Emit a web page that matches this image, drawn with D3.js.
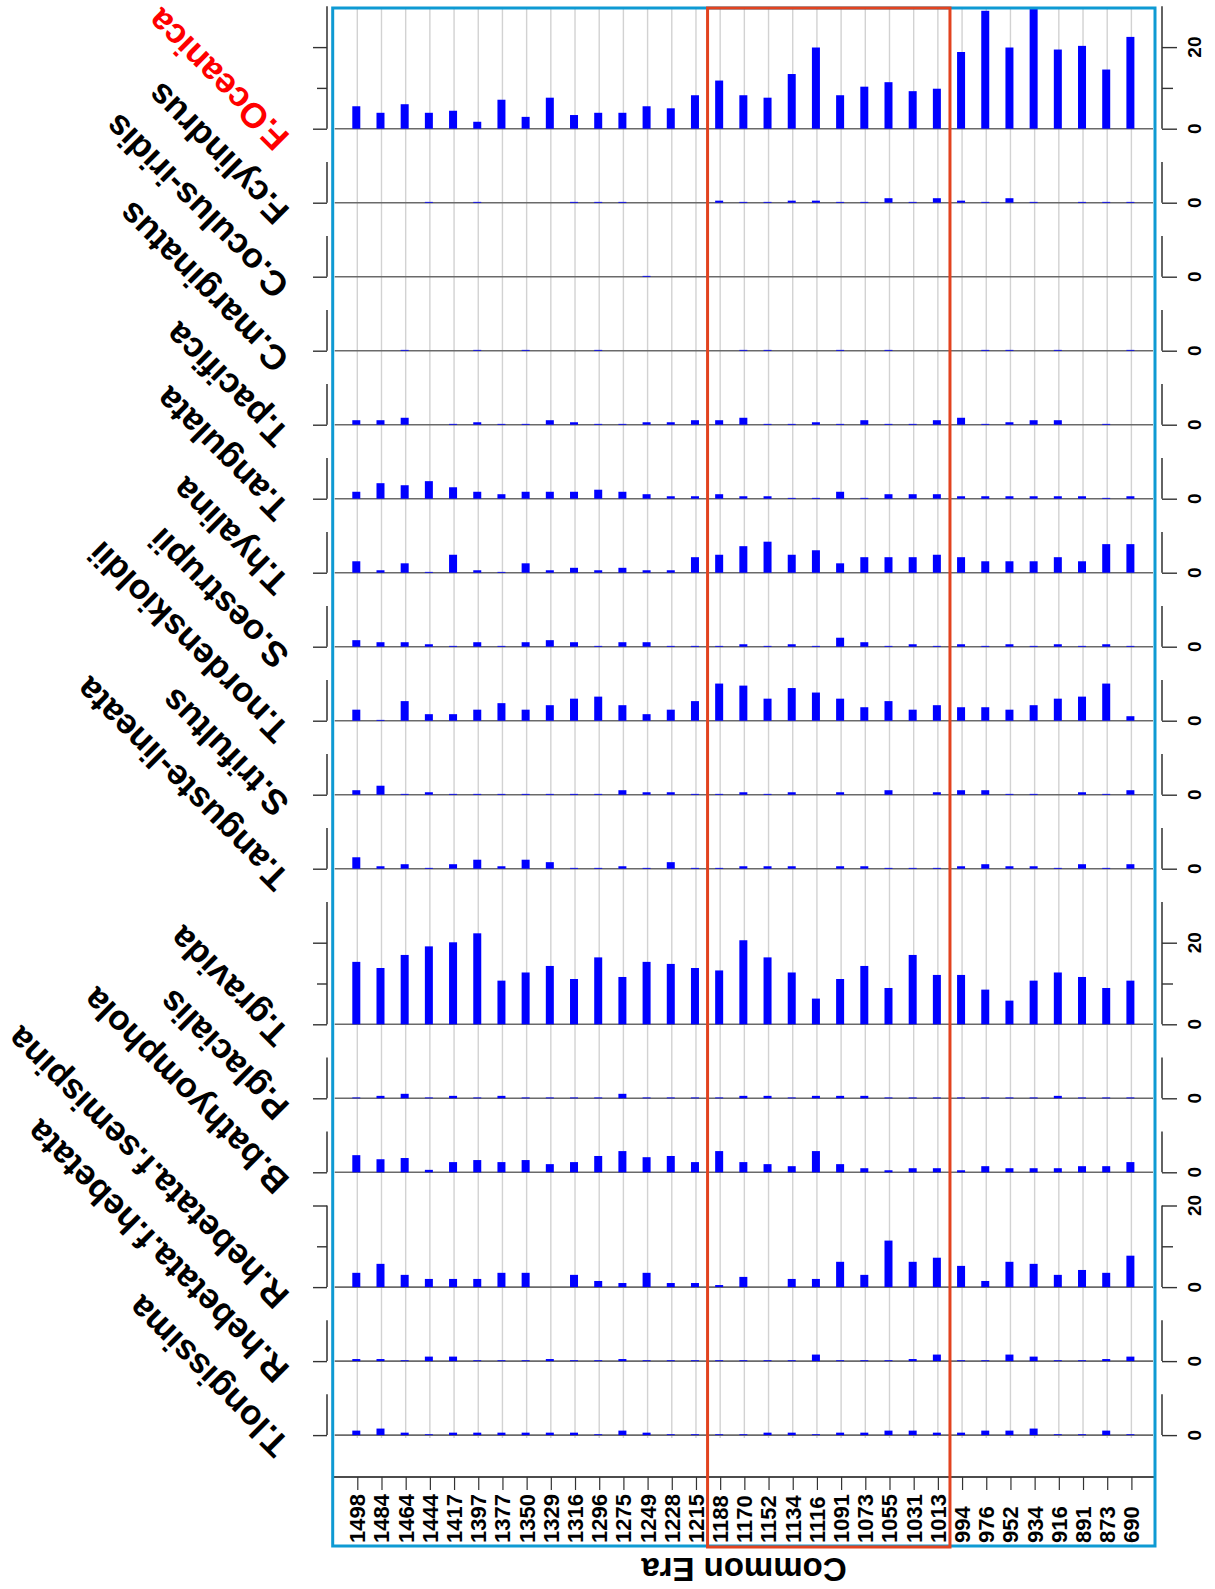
<!DOCTYPE html>
<html><head><meta charset="utf-8">
<script src="https://cdn.jsdelivr.net/npm/d3@7"></script>
<style>body{margin:0;background:#fff}svg{display:block}text{font-family:"Liberation Sans",Arial,sans-serif;font-weight:bold}</style>
</head><body><svg id="c" width="1215" height="1589"></svg>
<script>
const years = [1498,1484,1464,1444,1417,1397,1377,1350,1329,1316,1296,1275,1249,1228,1215,1188,1170,1152,1134,1116,1091,1073,1055,1031,1013,994,976,952,934,916,891,873,690];
const speciesNames = ["F.Oceanica","F.cylindrus","C.oculus-iridis","C.marginatus","T.pacifica","T.angulata","T.hyalina","S.oestrupii","T.nordenskioldii","S.trifultus","T.anguste-lineata","T.gravida","P.glacialis","B.bathyomphola","R.hebetata.f.semispina","R.hebetata.f.hebetata","T.longissima"];
const axisMax = [30,10,10,10,10,10,10,10,10,10,10,30,10,10,20,10,10];
const axisTicks = [[0,10,20],[0],[0],[0],[0],[0],[0],[0],[0],[0],[0],[0,10,20],[0],[0],[0,10,20],[0],[0]];
const axisLabels = [[0,20],[0],[0],[0],[0],[0],[0],[0],[0],[0],[0],[0,20],[0],[0],[0,20],[0],[0]];

const fOceanica = [5.5,3.9,6.0,3.9,4.4,1.7,7.1,2.9,7.6,3.35,3.9,3.9,5.5,5.0,8.2,11.8,8.2,7.6,13.4,19.9,8.2,10.3,11.4,9.2,9.8,18.8,28.9,19.9,29.8,19.4,20.3,14.5,22.5];
const fCylindrus = [0,0,0,0.2,0,0.2,0,0,0,0.2,0.2,0.2,0,0,0,0.5,0.2,0.2,0.5,0.5,0.2,0.2,1.1,0.2,1.1,0.5,0.2,1.1,0.2,0,0.2,0.2,0.2];
const cOculusIridis = [0,0,0,0,0,0,0,0,0,0,0,0,0.2,0,0,0,0,0,0,0,0,0,0,0,0,0,0,0,0,0,0,0,0];
const cMarginatus = [0,0,0.2,0,0,0.2,0,0.2,0,0,0.2,0,0,0,0,0,0.2,0.2,0,0,0.2,0,0.2,0,0,0,0.2,0.2,0,0.2,0,0,0.2];
const tPacifica = [1.1,1.1,1.7,0,0.2,0.6,0.2,0.2,1.1,0.6,0.2,0.2,0.6,0.6,1.1,1.1,1.7,0.2,0.2,0.6,0.2,1.1,0.2,0.2,1.1,1.7,0.2,0.6,1.1,1.1,0,0.2,0];
const tAngulata = [1.7,3.8,3.3,4.3,2.8,1.7,1.1,1.7,1.7,1.7,2.2,1.7,1.1,0.6,0.6,1.1,0.6,0.6,0.2,0.2,1.7,0.2,1.1,1.1,1.1,0.6,0.6,0.6,0.6,0.6,0.6,0.2,0.6];
const tHyalina = [2.8,0.6,2.3,0.2,4.4,0.6,0.2,2.3,0.6,1.2,0.6,1.2,0.6,0.6,3.8,4.4,6.5,7.6,4.4,5.5,2.3,3.8,3.8,3.8,4.4,3.8,2.8,2.8,2.8,3.8,2.8,7.0,7.0];
const sOestrupii = [1.6,1.1,1.1,0.6,0.2,1.1,0.2,1.1,1.6,1.1,0.2,1.1,1.1,0.2,0.2,0.2,0.6,0.2,0.6,0.2,2.2,1.1,0.2,0.6,0.2,0.6,0.2,0.6,0.2,0.6,0.2,0.6,0.2];
const tNordenskioldii = [2.7,0.2,4.8,1.6,1.6,2.7,4.3,2.7,3.8,5.4,5.9,3.8,1.6,2.7,4.8,9.1,8.6,5.4,8.0,6.9,5.4,3.3,4.8,2.7,3.8,3.3,3.3,2.7,3.8,5.4,5.9,9.1,1.1];
const sTrifultus = [1.1,2.2,0.2,0.6,0.2,0.2,0.2,0.2,0.2,0.2,0.2,1.1,0.6,0.6,0.2,0.2,0.6,0.2,0.6,0,0.6,0,1.1,0,0.6,1.1,1.1,0.2,0.2,0,0.6,0.2,1.1];
const tAngusteLineata = [2.8,0.6,1.1,0.2,1.1,2.2,0.6,2.2,1.6,0.2,0.2,0.6,0.2,1.6,0.2,0.2,0.6,0.6,0.6,0,0.6,0.6,0.2,0.2,0.2,0.6,1.1,0.6,0.6,0.2,1.1,0.2,1.1];
const tGravida = [15.3,13.8,17.0,19.1,20.1,22.3,10.7,12.7,14.3,11.1,16.4,11.6,15.3,14.8,13.8,13.2,20.6,16.4,12.7,6.3,11.1,14.3,8.9,17.0,12.1,12.1,8.5,5.8,10.7,12.7,11.6,8.9,10.7];
const pGlacialis = [0.2,0.6,1.1,0.2,0.6,0.2,0.6,0.2,0.2,0.2,0.2,1.1,0.2,0.2,0.2,0.2,0.6,0.6,0.2,0.6,0.6,0.6,0.2,0.2,0.2,0.2,0.2,0.2,0.2,0.6,0.2,0.2,0.2];
const bBathyomphola = [4.2,3.2,3.5,0.6,2.5,3.0,2.5,3.0,2.0,2.5,4.0,5.2,3.7,4.0,2.5,5.2,2.5,2.0,1.5,5.2,2.0,1.0,0.5,1.0,1.0,0.5,1.5,1.0,1.0,1.0,1.5,1.5,2.5];
const rHebSemispina = [3.5,5.7,3.0,2.0,2.0,2.0,3.5,3.5,0,3.0,1.5,1.0,3.5,1.0,1.0,0.5,2.5,0,2.0,2.0,6.2,3.0,11.4,6.2,7.2,5.2,1.5,6.2,5.7,3.0,4.2,3.5,7.7];
const rHebHebetata = [0.5,0.5,0.2,1.1,1.1,0.2,0.2,0.2,0.5,0.2,0.2,0.5,0.2,0.2,0.2,0.2,0.2,0.2,0.2,1.6,0.2,0.2,0.2,0.5,1.6,0.2,0.2,1.6,1.1,0.2,0.2,0.5,1.1];
const tLongissima = [1.1,1.6,0.6,0.2,0.6,0.6,0.6,0.6,0.6,0.6,0.2,1.1,0.6,0.2,0.2,0.2,0.2,0.6,0.6,0.2,0.6,0.6,1.1,1.1,0.6,0.6,1.1,1.1,1.6,0.2,0.2,1.1,0.2];
const series = [fOceanica,fCylindrus,cOculusIridis,cMarginatus,tPacifica,tAngulata,tHyalina,sOestrupii,tNordenskioldii,sTrifultus,tAngusteLineata,tGravida,pGlacialis,bBathyomphola,rHebSemispina,rHebHebetata,tLongissima];
const highlightYears = [1188,1013];
const xTitle = "Common Era";

const svg = d3.select("#c");
const ppu = 4.08, gap = 33.2, firstZero = 128.7;
const x = d3.scalePoint().domain(years).range([357.3,1131.4]);
const boxL = 332.7, boxR = 1155, boxT = 8, boxB = 1546;
const gridBottom = 1438, axisY = 1477;

const zeros = [];
axisMax.forEach((m,i)=>{ zeros.push(i===0 ? firstZero : zeros[i-1] + gap + m*ppu); });
const yScales = axisMax.map((m,i)=> d3.scaleLinear().domain([0,m]).range([zeros[i], zeros[i]-m*ppu]));

svg.append("g").selectAll("line").data(years).join("line")
  .attr("x1",d=>x(d)).attr("x2",d=>x(d)).attr("y1",boxT).attr("y2",gridBottom)
  .attr("stroke","#d2d2d2").attr("stroke-width",1.4);

series.forEach((vals,i)=>{
  const y = yScales[i];
  const g = svg.append("g");
  g.append("line").attr("x1",boxL+2).attr("x2",boxR-2).attr("y1",y(0)).attr("y2",y(0))
    .attr("stroke","#6a6a6a").attr("stroke-width",1.6);
  g.selectAll("rect").data(vals).join("rect")
    .attr("x",(d,j)=>x(years[j])-5).attr("width",8)
    .attr("y",d=>y(d)).attr("height",d=>y(0)-y(d))
    .attr("fill","#0000ff");
  const ra = d3.axisRight(y).tickValues(axisTicks[i]).tickSize(15).tickFormat("");
  const rg = g.append("g").attr("transform","translate(1162,0)").call(ra);
  rg.select(".domain").attr("d",`M0,${y(axisMax[i])}V${y(0)}`).attr("stroke","#222").attr("stroke-width",1.4);
  rg.selectAll(".tick line").attr("stroke","#333").attr("stroke-width",1.4).attr("x2",d=>axisLabels[i].includes(d)?15:11);
  const la = d3.axisLeft(y).tickValues(axisTicks[i]).tickSize(14).tickFormat("");
  const lg = g.append("g").attr("transform","translate(327,0)").call(la);
  lg.select(".domain").attr("d",`M0,${y(axisMax[i])}V${y(0)}`).attr("stroke","#222").attr("stroke-width",1.4);
  lg.selectAll(".tick line").attr("stroke","#333").attr("stroke-width",1.4).attr("x2",d=>axisLabels[i].includes(d)?-14:-10);
  g.selectAll("text.tl").data(axisLabels[i]).join("text").attr("class","tl")
    .attr("transform",d=>`translate(1194,${y(d)}) rotate(-90)`)
    .attr("text-anchor","middle").attr("dy","0.36em").attr("font-size",19).attr("fill","#000").text(d=>d);
  g.append("text").attr("transform",`translate(291,${y(0)+7}) rotate(-135)`)
    .attr("font-size",35).attr("fill", i===0 ? "#ff0000" : "#000").text(speciesNames[i]);
});

const xa = d3.axisBottom(x).tickSize(13).tickFormat("");
const xg = svg.append("g").attr("transform",`translate(0,${axisY})`).call(xa);
xg.select(".domain").attr("d",`M${boxL},0H${boxR}`).attr("stroke","#111").attr("stroke-width",1.4);
xg.selectAll(".tick line").attr("stroke","#333").attr("stroke-width",1.2);
svg.append("g").selectAll("text").data(years).join("text")
  .attr("transform",d=>`translate(${x(d)},1543) rotate(-90)`)
  .attr("dy","0.36em").attr("font-size",22).attr("text-anchor","start").text(d=>d);

svg.append("rect").attr("x",boxL).attr("y",boxT).attr("width",boxR-boxL).attr("height",boxB-boxT)
  .attr("fill","none").attr("stroke","#0e9ad3").attr("stroke-width",3);
const redL = (x(highlightYears[0]) + x(1215))/2 - 0.5, redR = (x(highlightYears[1]) + x(994))/2;
svg.append("rect").attr("x",redL).attr("y",boxT).attr("width",redR-redL).attr("height",boxB-boxT+1)
  .attr("fill","none").attr("stroke","#e2431f").attr("stroke-width",3);

svg.append("text").attr("transform","translate(744,1558) rotate(180)")
  .attr("text-anchor","middle").attr("font-size",33).text(xTitle);
</script></body></html>
